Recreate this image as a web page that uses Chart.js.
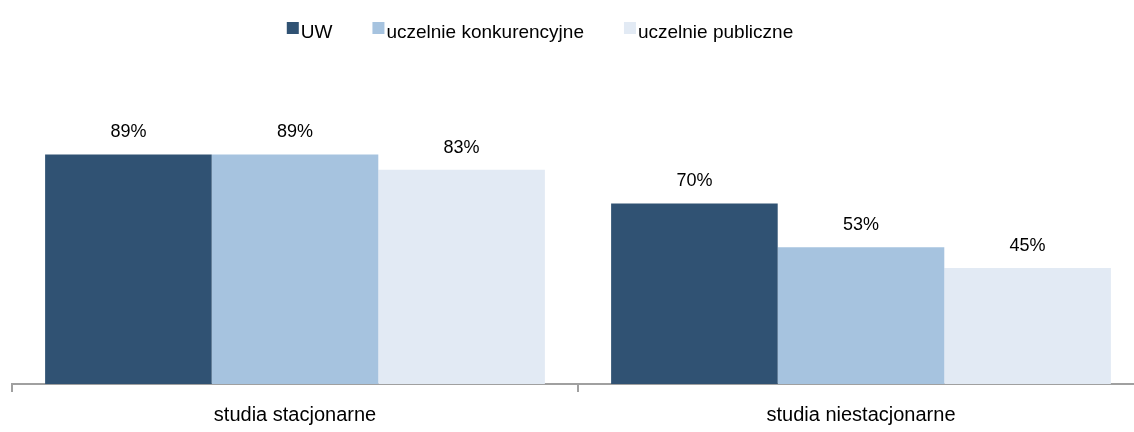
<!DOCTYPE html>
<html><head><meta charset="utf-8">
<script src="https://cdn.jsdelivr.net/npm/chart.js@4"></script>
<style>html,body{margin:0;padding:0;background:#fff;overflow:hidden;width:1134px;height:432px}canvas{display:block}</style>
</head><body><canvas id="c" width="1146" height="432"></canvas>
<script>
const categories = ["studia stacjonarne", "studia niestacjonarne"];
const seriesNames = ["UW", "uczelnie konkurencyjne", "uczelnie publiczne"];
const uwValues = [89, 70];
const konkurencyjneValues = [89, 53];
const publiczneValues = [83, 45];
const colors = ["#305273", "#A6C3DF", "#E2EAF4"];
const FONT = "'Liberation Sans', Arial, sans-serif";

const labelPlugin = {
  id: 'valLabels',
  afterDatasetsDraw(chart) {
    const ctx = chart.ctx;
    ctx.save();
    ctx.font = "18px " + FONT;
    ctx.fillStyle = "#000";
    ctx.textAlign = "center";
    ctx.textBaseline = "alphabetic";
    chart.data.datasets.forEach((ds, i) => {
      chart.getDatasetMeta(i).data.forEach((bar, j) => {
        ctx.fillText(ds.data[j] + "%", bar.x, bar.y - 17);
      });
    });
    ctx.restore();
  }
};

const legendPlugin = {
  id: 'customLegend',
  afterDraw(chart) {
    const ctx = chart.ctx;
    ctx.save();
    ctx.font = "19px " + FONT;
    const box = 12, gapText = 2, gapItem = 40;
    const widths = chart.data.datasets.map(d => box + gapText + ctx.measureText(d.label).width);
    const total = widths.reduce((a, b) => a + b, 0) + gapItem * (widths.length - 1);
    let x = 540 - total / 2;
    ctx.textBaseline = "alphabetic";
    ctx.textAlign = "left";
    chart.data.datasets.forEach((d, i) => {
      ctx.fillStyle = d.backgroundColor;
      ctx.fillRect(x, 22, box, box);
      ctx.fillStyle = "#000";
      ctx.fillText(d.label, x + box + gapText, 38);
      x += widths[i] + gapItem;
    });
    ctx.restore();
  }
};

new Chart(document.getElementById('c'), {
  type: 'bar',
  data: {
    labels: categories,
    datasets: [
      { label: seriesNames[0], data: uwValues, backgroundColor: colors[0] },
      { label: seriesNames[1], data: konkurencyjneValues, backgroundColor: colors[1] },
      { label: seriesNames[2], data: publiczneValues, backgroundColor: colors[2] }
    ]
  },
  options: {
    responsive: false,
    animation: false,
    layout: { padding: { top: 126, left: 12, right: 2, bottom: 0 } },
    datasets: { bar: { categoryPercentage: 0.883, barPercentage: 1.0, borderWidth: 0 } },
    plugins: { legend: { display: false }, tooltip: { enabled: false } },
    scales: {
      x: {
        afterFit(scale) { scale.height = 48; },
        grid: { display: true, offset: true, drawOnChartArea: false, drawTicks: true, tickLength: 8, color: "#A0A0A0", lineWidth: 2 },
        border: { display: true, color: "#A0A0A0", width: 2 },
        ticks: { color: "#000", font: { family: FONT, size: 20 }, padding: 11 }
      },
      y: {
        display: false,
        min: 0, max: 100
      }
    }
  },
  plugins: [labelPlugin, legendPlugin]
});
</script></body></html>
